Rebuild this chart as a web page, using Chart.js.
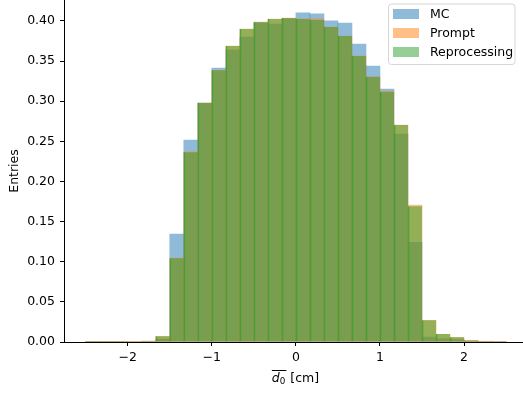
<!DOCTYPE html>
<html>
<head>
<meta charset="utf-8">
<script src="https://cdn.jsdelivr.net/npm/chart.js@4.4.1/dist/chart.umd.min.js"></script>
<style>
  html, body { margin: 0; padding: 0; background: #fff; }
  #wrap { width: 523px; height: 398px; }
</style>
</head>
<body>
<div id="wrap"><canvas id="hist" width="523" height="398"></canvas></div>
<script>
// histogram: 30 bins between -2.5 and 2.5 cm
const binLow = -2.5;
const binWidth = 5 / 30;
const binCenters = Array.from({ length: 30 }, (_, k) => binLow + (k + 0.5) * binWidth);

const seriesNames = ['MC', 'Prompt', 'Reprocessing'];

const mcValues = [
    0.0003, 0.0003, 0.0004, 0.0006, 0.0010, 0.0034, 0.1343, 0.2515, 0.2976, 0.3413,
    0.3637, 0.3799, 0.3974, 0.3961, 0.4024, 0.4099, 0.4087, 0.3999, 0.3974, 0.3712,
    0.3438, 0.3151, 0.2590, 0.1243, 0.0062, 0.0040, 0.0030, 0.0012, 0.0008, 0.0004
];
const promptValues = [
    0.0002, 0.0002, 0.0003, 0.0005, 0.0010, 0.0071, 0.1044, 0.2370, 0.2976, 0.3384,
    0.3687, 0.3899, 0.3986, 0.4023, 0.4036, 0.4024, 0.4024, 0.3924, 0.3812, 0.3562,
    0.3304, 0.3126, 0.2702, 0.1704, 0.0270, 0.0095, 0.0058, 0.0020, 0.0010, 0.0005
];
const reproValues = [
    0.0002, 0.0002, 0.0003, 0.0005, 0.0010, 0.0071, 0.1044, 0.2365, 0.2976, 0.3384,
    0.3687, 0.3899, 0.3986, 0.4023, 0.4036, 0.4024, 0.4012, 0.3924, 0.3812, 0.3562,
    0.3304, 0.3113, 0.2702, 0.1692, 0.0270, 0.0100, 0.0058, 0.0020, 0.0010, 0.0005
];

const xTicks = [-2, -1, 0, 1, 2];

const FONT = 'DejaVu Sans';
const colors = ['rgba(31,119,180,0.5)', 'rgba(255,127,14,0.5)', 'rgba(44,160,44,0.5)'];

const toPoints = vals => vals.map((v, i) => ({ x: binCenters[i], y: v }));

/* ---------- legend drawn matplotlib style ---------- */
const mplLegend = {
    id: 'mplLegend',
    afterDraw(chart) {
        const ctx = chart.ctx;
        const x0 = 388.5, y0 = 4, w = 126.5, h = 60.5, r = 3;
        ctx.save();
        ctx.beginPath();
        ctx.roundRect(x0, y0, w, h, r);
        ctx.fillStyle = 'rgba(255,255,255,0.8)';
        ctx.fill();
        ctx.strokeStyle = '#d6d6d6';
        ctx.lineWidth = 1;
        ctx.stroke();
        ctx.font = '12.5px "' + FONT + '"';
        ctx.textBaseline = 'middle';
        seriesNames.forEach((name, i) => {
            const cy = 14 + i * 19;
            ctx.fillStyle = colors[i];
            ctx.fillRect(393, cy - 5, 26, 10);
            ctx.fillStyle = '#000';
            ctx.fillText(name, 430, cy + 0.5);
        });
        ctx.restore();
    }
};

/* ---------- x label: overline(d_0) [cm] ---------- */
const xLabel = {
    id: 'xLabel',
    afterDraw(chart) {
        const ctx = chart.ctx;
        const base = 381.5;
        ctx.save();
        ctx.fillStyle = '#000';
        ctx.textBaseline = 'alphabetic';
        ctx.font = 'oblique 12.5px "' + FONT + '"';
        const dW = ctx.measureText('d').width;
        ctx.font = '8.8px "' + FONT + '"';
        const subW = ctx.measureText('0').width;
        ctx.font = '12.5px "' + FONT + '"';
        const restW = ctx.measureText(' [cm]').width;
        const total = dW + subW + 1 + restW;
        let x = (chart.chartArea.left + chart.chartArea.right) / 2 - total / 2 + 2;
        ctx.font = 'oblique 12.5px "' + FONT + '"';
        ctx.fillText('d', x, base);
        ctx.font = '8.8px "' + FONT + '"';
        ctx.fillText('0', x + dW, base + 2.5);
        ctx.fillRect(x, 370, dW + subW + 1, 1);
        ctx.font = '12.5px "' + FONT + '"';
        ctx.fillText(' [cm]', x + dW + subW + 1, base);
        ctx.restore();
    }
};

const minus = v => String(v).replace('-', '\u2212');

new Chart(document.getElementById('hist'), {
    type: 'bar',
    data: {
        datasets: [
            { label: seriesNames[0], data: toPoints(mcValues), backgroundColor: colors[0], order: 3 },
            { label: seriesNames[1], data: toPoints(promptValues), backgroundColor: colors[1], order: 2 },
            {
                label: seriesNames[2], data: toPoints(reproValues), backgroundColor: colors[2], order: 1,
                borderColor: 'rgba(44,160,44,0.75)', borderWidth: { left: 1, right: 0, top: 0, bottom: 0 }
            }
        ]
    },
    options: {
        responsive: false,
        animation: false,
        events: [],
        layout: { padding: 0 },
        grouped: false,
        barPercentage: 1,
        categoryPercentage: 1,
        plugins: { legend: { display: false }, tooltip: { enabled: false } },
        scales: {
            x: {
                type: 'linear',
                min: -2.758,
                max: 2.701,
                offset: false,
                afterFit: s => { s.height = 56; s.paddingLeft = 0; s.paddingRight = 0; },
                afterBuildTicks: s => { s.ticks = xTicks.map(v => ({ value: v })); },
                grid: { offset: false, drawOnChartArea: false, drawTicks: true, tickLength: 4, tickColor: '#000' },
                border: { display: true, color: '#000', width: 1 },
                ticks: {
                    color: '#000', padding: 4, maxRotation: 0,
                    font: { family: FONT, size: 12.5 },
                    callback: v => minus(v)
                }
            },
            y: {
                type: 'linear',
                min: 0,
                max: 0.426,
                afterFit: s => { s.width = 64; s.paddingTop = 0; s.paddingBottom = 0; },
                grid: { drawOnChartArea: false, drawTicks: true, tickLength: 4, tickColor: '#000' },
                border: { display: true, color: '#000', width: 1 },
                ticks: {
                    color: '#000', padding: 5, stepSize: 0.05, includeBounds: false,
                    font: { family: FONT, size: 12.5 },
                    callback: v => v.toFixed(2)
                },
                title: {
                    display: true, text: 'Entries', color: '#000',
                    font: { family: FONT, size: 12.5 },
                    padding: { top: 7, bottom: 0 }
                }
            }
        }
    },
    plugins: [mplLegend, xLabel]
});
</script>
</body>
</html>
